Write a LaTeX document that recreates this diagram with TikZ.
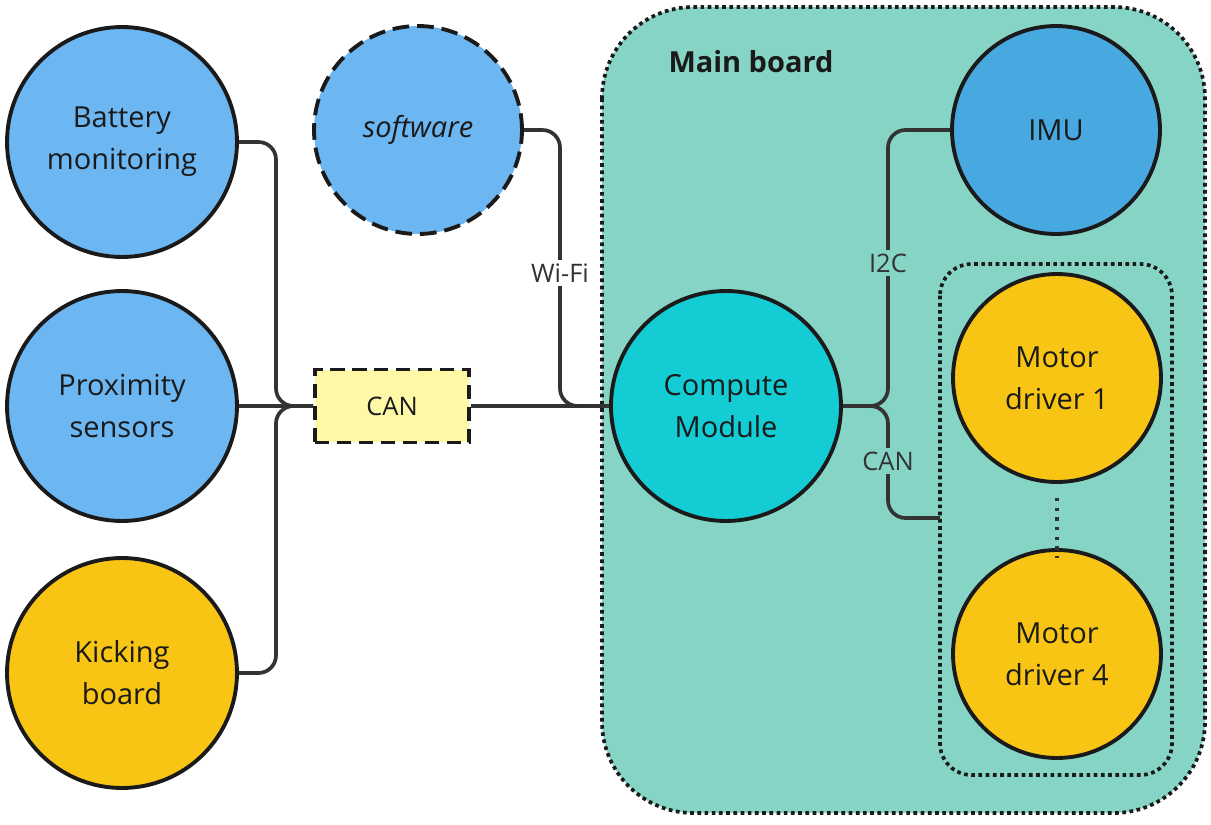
\documentclass[tikz,border=0pt]{standalone}
\usepackage{fontspec}
\setmainfont{Open Sans}
\usetikzlibrary{positioning}

\definecolor{lightblue}{HTML}{6CB6F2}
\definecolor{imublue}{HTML}{48A8E0}
\definecolor{cmcyan}{HTML}{14CCD4}
\definecolor{myyellow}{HTML}{F8C515}
\definecolor{boardteal}{HTML}{86D4C5}
\definecolor{canyellow}{HTML}{FFF8A6}
\definecolor{linegray}{HTML}{333333}
\definecolor{textgray}{HTML}{1A1A1A}

\begin{document}
\begin{tikzpicture}[x=0.02cm, y=-0.02cm,
    big/.style={circle, draw=textgray, line width=2.2pt, minimum size=4.6cm, inner sep=0pt, align=center, text=textgray, font=\fontsize{16.5}{23.8}\selectfont},
    small/.style={big, minimum size=4.16cm},
    wire/.style={draw=linegray, line width=2.1pt, rounded corners=10},
    lbl/.style={font=\fontsize{14.5}{16}\selectfont, text=linegray, inner sep=2pt},
    box/.style={draw=textgray, line width=2.1pt, dash pattern=on 2.1pt off 2pt, rounded corners=#1}]
  \useasboundingbox (0,0) rectangle (1211,825);
  % boards
  \path[box=52, fill=boardteal] (602,7) rectangle (1205,813);
  \path[box=18] (940,264) rectangle (1172,775);
  \node[font=\bfseries\fontsize{16.5}{20}\selectfont, text=textgray] (mbtitle) at (751,62) {Main board};
  % nodes
  \node[big, fill=lightblue] (bat) at (122,142) {Battery\\monitoring};
  \node[big, fill=lightblue] (prox) at (122,406) {Proximity\\sensors};
  \node[big, fill=myyellow] (kick) at (122,673) {Kicking\\board};
  \node[small, fill=lightblue, dash pattern=on 9.5pt off 4.5pt] (sw) at (418,130) {\itshape software};
  \node[draw=textgray, line width=2.2pt, dash pattern=on 8pt off 4.5pt, fill=canyellow, minimum width=3.08cm, minimum height=1.46cm, font=\fontsize{14.5}{16}\selectfont, text=textgray] (canbus) at (392,406) {CAN};
  \node[big, fill=cmcyan] (cm) at (726,406) {Compute\\Module};
  \node[small, fill=imublue] (imu) at (1056,130) {IMU};
  \node[small, fill=myyellow] (md1) at (1057,378) {Motor\\driver 1};
  \node[small, fill=myyellow] (md4) at (1057,654) {Motor\\driver 4};
  \coordinate (mdin) at (940,518);
  % connectors
  \draw[wire] (bat.east) -- (276,142) -- (276,406) -- (canbus.west);
  \draw[wire] (kick.east) -- (276,673) -- (276,406) -- (canbus.west);
  \draw[wire] (prox.east) -- (canbus.west);
  \draw[wire] (canbus.east) -- (cm.west);
  \draw[wire] (sw.east) -- (560,130) -- (560,406) -- (cm.west);
  \draw[wire] (cm.east) -- (888,406) -- (888,130) -- (imu.west);
  \draw[wire] (cm.east) -- (888,406) -- (888,518) -- (mdin);
  \draw[draw=linegray, line width=2pt, dash pattern=on 2pt off 3.5pt] (md1.south) ++(0,14) -- ([yshift=-0.2cm]md4.north);
  % labels
  \node[lbl, fill=white] (wifi) at (560,273) {Wi-Fi};
  \node[lbl, fill=boardteal] (i2c) at (888,263) {I2C};
  \node[lbl, fill=boardteal] (canlbl) at (888,461) {CAN};
\end{tikzpicture}
\end{document}
